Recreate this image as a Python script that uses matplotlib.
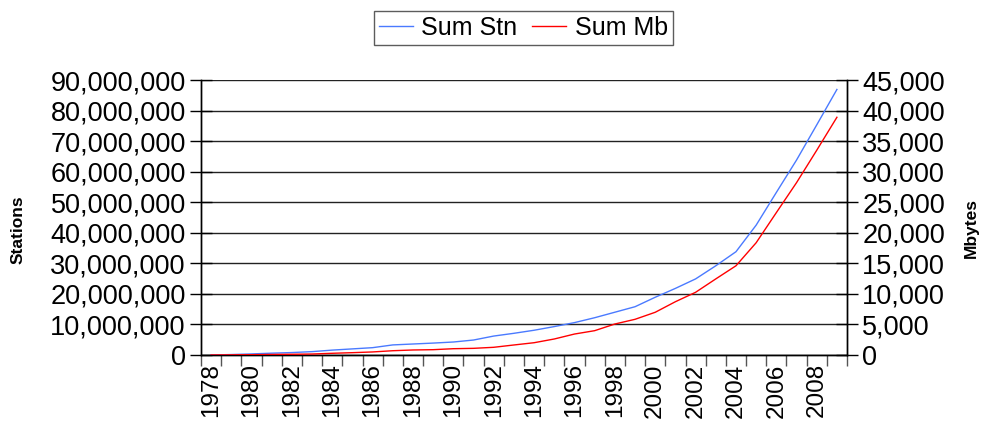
import numpy as np
import matplotlib.pyplot as plt
from matplotlib.ticker import FuncFormatter, MultipleLocator
from matplotlib.lines import Line2D

plt.rcParams['font.family'] = ['Liberation Sans', 'DejaVu Sans']

years = list(range(1978, 2010))
sum_stn = [0.0, 0.15, 0.35, 0.6, 0.8, 1.1, 1.6, 2.0, 2.4, 3.3,
           3.6, 3.9, 4.25, 4.9, 6.2, 7.1, 8.1, 9.3, 10.6, 12.2,
           14.0, 15.8, 18.9, 21.8, 24.9, 29.2, 33.8, 42.5, 53.2, 63.8,
           75.3, 86.9]  # millions of stations
sum_mb = [0, 25, 50, 90, 120, 160, 280, 380, 500, 700,
          820, 870, 1030, 1090, 1260, 1640, 2010, 2620, 3430, 3980,
          5070, 5840, 6990, 8720, 10260, 12450, 14600, 18370, 23300, 28200,
          33500, 38900]

stn_color = '#4a7aff'
mb_color = '#ff0000'

fig = plt.figure(figsize=(9.84, 4.28), dpi=100)
ax = fig.add_axes([201 / 984, 73 / 428, 646 / 984, 275 / 428])
ax2 = ax.twinx()

x = np.arange(len(years))
ax.plot(x, np.array(sum_stn) * 1e6, color=stn_color, lw=1.0, zorder=3)
ax2.plot(x, sum_mb, color=mb_color, lw=1.0, zorder=3)

ax.set_xlim(-0.5, len(years) - 0.5)
ax.set_ylim(0, 90e6)
ax2.set_ylim(0, 45000)
ax.yaxis.set_major_locator(MultipleLocator(10e6))
ax2.yaxis.set_major_locator(MultipleLocator(5000))
ax.yaxis.set_major_formatter(FuncFormatter(lambda v, p: f'{int(v):,}'))
ax2.yaxis.set_major_formatter(FuncFormatter(lambda v, p: f'{int(v):,}'))

# category boundaries carry the ticks, every second year is labelled
ax.set_xticks(np.arange(-0.5, len(years)))
ax.set_xticklabels([])
ax.set_xticks(x[::2], minor=True)
ax.set_xticklabels([str(y) for y in years[::2]], minor=True, rotation=90, fontsize=17.5)
ax.tick_params(axis='x', which='major', direction='out', length=8, width=1, color='#555555')
ax.tick_params(axis='x', which='minor', length=0, pad=6)

ax.tick_params(axis='y', direction='inout', length=16, width=1, labelsize=19.5, pad=3)
ax2.tick_params(axis='y', direction='inout', length=16, width=1, labelsize=19.5, pad=3)

ax.grid(axis='y', color='#222222', lw=1.0)
ax.set_axisbelow(True)
for a in (ax, ax2):
    a.spines['top'].set_visible(False)
    for s in ('left', 'right', 'bottom'):
        a.spines[s].set_linewidth(1.0)
        a.spines[s].set_color('black')

ax.set_ylabel('Stations', fontsize=12.5, fontweight='bold')
ax2.set_ylabel('Mbytes', fontsize=12.5, fontweight='bold')
ax.yaxis.set_label_coords(-0.272, 0.455)
ax2.yaxis.set_label_coords(1.181, 0.46)

handles = [Line2D([], [], color=stn_color, lw=1.0), Line2D([], [], color=mb_color, lw=1.0)]
leg = fig.legend(handles, ['Sum Stn', 'Sum Mb'], loc='center', bbox_to_anchor=(0.532, 0.934),
                 ncol=2, fontsize=18, frameon=True, fancybox=False, handlelength=1.35,
                 handletextpad=0.35, columnspacing=0.6, borderpad=0.2)
leg.get_frame().set_edgecolor('#333333')
leg.get_frame().set_linewidth(1.0)

fig.savefig('out.png', dpi=100)
